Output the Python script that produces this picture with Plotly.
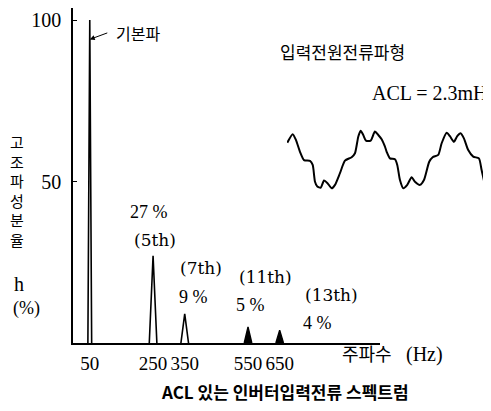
import plotly.graph_objects as go

# ---- data ----
freq_hz = [50, 250, 350, 550, 650]
amp_pct = [100, 27, 9, 5, 4]
order_labels = ["", "(5th)", "(7th)", "(11th)", "(13th)"]
pct_labels = ["", "27 %", "9 %", "5 %", "4 %"]
x_tick_vals = [50, 250, 350, 550, 650]
y_tick_vals = [50, 100]

# inset: input supply current waveform (time in ms, normalised current)
wave_t_ms = [0.07, 1.31, 2.07, 2.99, 3.91, 5.29, 5.91, 6.44, 6.97, 7.75, 8.51, 9.36,
             10.28, 11.04, 12.18, 13.33, 14.87, 15.63, 16.39, 16.94, 17.54, 18.16,
             19.24, 20.23, 20.99, 21.77, 22.53, 22.92, 23.68, 24.83, 25.36, 25.98,
             26.74, 27.66, 28.67, 29.43, 30.58, 31.50, 32.71, 33.50, 34.78, 35.57,
             36.72, 37.47, 38.39, 39.15, 39.93, 40.69, 41.68, 42.83, 44.14, 44.76,
             45.52, 45.75]
wave_i = [0.59, 0.89, 0.68, 0.27, -0.02, -0.05, -0.19, -0.78, -0.95, -0.99, -0.74, -0.84,
          -1.01, -0.89, -0.48, -0.04, 0.08, 0.22, 0.80, 1.01, 0.86, 0.66,
          0.66, 0.98, 0.86, 0.71, 0.45, 0.27, 0.04, 0.01, -0.19, -0.72,
          -1.01, -0.89, -0.62, -0.78, -0.89, -0.72, -0.08, 0.08, 0.16, 0.57,
          0.94, 0.82, 0.62, 0.82, 0.92, 0.74, 0.33, 0.10, 0.04, -0.37,
          -0.89, -1.01]

# page body has an 8px margin: size the figure so it fits the window
OFF = 8
W, H = 491 - OFF, 411 - OFF
SERIF = "Liberation Serif"
SERIF2 = "DejaVu Serif"
KR = "Noto Sans CJK KR"


def px(x):
    return min(1.0, max(0.0, (x - OFF) / W))


def py(y):
    return min(1.0, max(0.0, 1 - (y - OFF) / H))


# spike triangles built from the harmonic data
outline_x, outline_y, solid_x, solid_y = [], [], [], []
for f, a in zip(freq_hz, amp_pct):
    hw = 6 if a >= 50 else 12
    xs = [f - hw, f, f + hw, None]
    ys = [0, a, 0, None]
    if a < 6:
        solid_x += xs
        solid_y += ys
    else:
        outline_x += xs
        outline_y += ys

fig = go.Figure()
fig.add_trace(go.Scatter(x=outline_x, y=outline_y, mode="lines",
                         line=dict(color="black", width=1.6), hoverinfo="skip"))
fig.add_trace(go.Scatter(x=solid_x, y=solid_y, mode="lines", fill="toself",
                         fillcolor="black", line=dict(color="black", width=1.4),
                         hoverinfo="skip"))
fig.add_trace(go.Scatter(x=wave_t_ms, y=wave_i, mode="lines", xaxis="x2", yaxis="y2",
                         line=dict(color="black", width=2, shape="spline", smoothing=0.6),
                         hoverinfo="skip"))

annotations = []


def add_text(text, x, y, size, family, **kw):
    annotations.append(dict(text=text, x=px(x), y=py(y), xref="paper", yref="paper",
                            showarrow=False, xanchor="center", yanchor="middle",
                            font=dict(size=size, family=family, color="black"), **kw))


# harmonic labels
pct_pos = [None, (149, 212), (193, 297), (250, 305), (317, 323)]
ord_pos = [None, (155, 240), (201, 268), (265, 277), (331, 295)]
for lab, pos in zip(pct_labels, pct_pos):
    if pos:
        add_text(lab, pos[0], pos[1], 18, SERIF)
for lab, pos in zip(order_labels, ord_pos):
    if pos:
        add_text(lab, pos[0], pos[1], 17, SERIF2)

# fundamental label with arrow
annotations.append(dict(text="", x=freq_hz[0], y=amp_pct[0] - 6, xref="x", yref="y",
                        ax=19, ay=-7, showarrow=True, arrowhead=2, arrowsize=1,
                        arrowwidth=1, arrowcolor="black"))
add_text("기본파", 138, 33, 16, KR)

# inset titles
add_text("입력전원전류파형", 342, 51, 17, KR)
add_text("ACL = 2.3mH", 430, 93, 20, SERIF)

# y-axis label (stacked)
add_text("고<br>조<br>파<br>성<br>분<br>율", 17, 191, 15, KR)
add_text("h", 19, 284, 20, SERIF)
add_text("(%)", 26, 308, 18, SERIF)

# x-axis label
add_text("주파수", 367, 353, 18, KR)
add_text("(Hz)", 424, 354, 20, SERIF)

# bottom title
add_text("<b>ACL 있는 인버터입력전류 스펙트럼</b>", 285, 391, 17, KR)

Y_TOP = 8
fig.update_layout(
    width=W, height=H, autosize=False,
    margin=dict(l=0, r=0, t=0, b=0, pad=0),
    paper_bgcolor="white", plot_bgcolor="white",
    showlegend=False,
    annotations=annotations,
    xaxis=dict(domain=[px(73), px(380)], range=[-3, 967], showgrid=False,
               zeroline=False, showline=True, linecolor="black", linewidth=2,
               tickvals=x_tick_vals, ticks="", ticklabelstandoff=2, tickangle=0,
               automargin=False,
               tickfont=dict(size=19, family=SERIF, color="black")),
    yaxis=dict(domain=[py(343), py(Y_TOP)], range=[0, (343 - Y_TOP) / 3.23],
               showgrid=False,
               zeroline=False, showline=True, linecolor="black", linewidth=1.5,
               tickvals=y_tick_vals, ticks="inside", ticklen=4, tickcolor="black",
               ticklabelstandoff=6, automargin=False,
               tickfont=dict(size=20, family=SERIF, color="black")),
    xaxis2=dict(domain=[px(287), px(487)], range=[0, 46], visible=False,
                anchor="y2"),
    yaxis2=dict(domain=[py(190), py(129)], range=[-1.07, 1.07], visible=False,
                anchor="x2"),
)

fig.write_html("out.html")
